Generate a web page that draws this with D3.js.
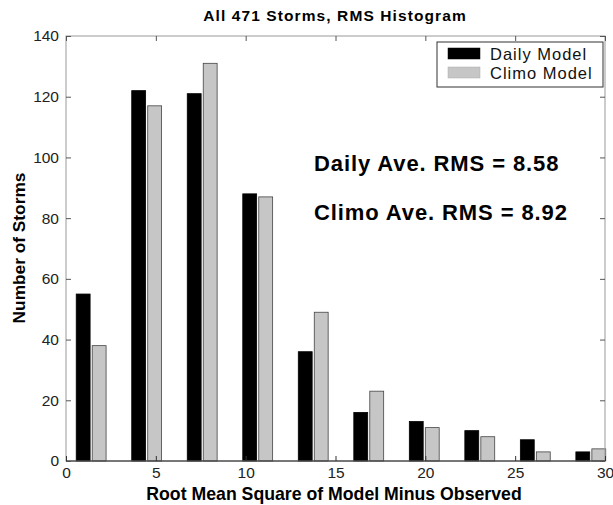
<!DOCTYPE html>
<html><head><meta charset="utf-8">
<script src="https://cdn.jsdelivr.net/npm/d3@7"></script>
<style>body{margin:0;background:#fff}svg{display:block}text{font-family:"Liberation Sans",Arial,sans-serif}</style>
</head><body><svg id="c" width="613" height="505"></svg>
<script>
const binCenters = [1.4, 4.49, 7.58, 10.67, 13.76, 16.85, 19.94, 23.03, 26.12, 29.21];
const dailyCounts = [55, 122, 121, 88, 36, 16, 13, 10, 7, 3];
const climoCounts = [38, 117, 131, 87, 49, 23, 11, 8, 3, 4];
const seriesNames = ["Daily Model", "Climo Model"];
const xTicks = [0, 5, 10, 15, 20, 25, 30];
const yTicks = [0, 20, 40, 60, 80, 100, 120, 140];
const titleText = "All 471 Storms, RMS Histogram";
const xLabel = "Root Mean Square of Model Minus Observed";
const yLabel = "Number of Storms";
const notes = ["Daily Ave. RMS = 8.58", "Climo Ave. RMS = 8.92"];

const svg = d3.select("#c");
const L = 66, R = 605, T = 36, B = 461;
const x = d3.scaleLinear().domain([0, 30]).range([L, R]);
const y = d3.scaleLinear().domain([0, 140]).range([B, T]);
const binW = binCenters[1] - binCenters[0];
const off = binW * 0.144, bw = binW * 0.25;

const colors = ["#000", "#c6c6c6"];
const series = [dailyCounts, climoCounts];
series.forEach((vals, si) => {
  svg.append("g").selectAll("rect").data(vals).join("rect")
    .attr("x", (d, i) => x(binCenters[i] + (si === 0 ? -off : off) - bw / 2))
    .attr("width", x(bw) - x(0))
    .attr("y", d => y(d))
    .attr("height", d => y(0) - y(d))
    .attr("fill", colors[si])
    .attr("stroke", si === 0 ? "#000" : "#444")
    .attr("stroke-width", 0.8);
});

// box
svg.append("rect").attr("x", L).attr("y", T).attr("width", R - L).attr("height", B - T)
  .attr("fill", "none").attr("stroke", "#999").attr("stroke-width", 1);
svg.append("line").attr("x1", L).attr("x2", R).attr("y1", B).attr("y2", B).attr("stroke", "#222");

const tk = 5;
const xAxB = d3.axisBottom(x).tickValues(xTicks).tickSizeInner(-tk).tickSizeOuter(0).tickPadding(6);
const gx = svg.append("g").attr("transform", `translate(0,${B})`).call(xAxB);
gx.select(".domain").remove();
gx.selectAll("line").attr("stroke", "#333");
gx.selectAll("text").attr("font-size", 15.5).attr("fill", "#222");
const xAxT = d3.axisTop(x).tickValues(xTicks).tickSizeInner(-tk).tickSizeOuter(0).tickFormat("");
const gxt = svg.append("g").attr("transform", `translate(0,${T})`).call(xAxT);
gxt.select(".domain").remove(); gxt.selectAll("line").attr("stroke", "#555");

const yAxL = d3.axisLeft(y).tickValues(yTicks).tickSizeInner(-tk).tickSizeOuter(0).tickPadding(7);
const gy = svg.append("g").attr("transform", `translate(${L},0)`).call(yAxL);
gy.select(".domain").remove();
gy.selectAll("line").attr("stroke", "#555");
gy.selectAll("text").attr("font-size", 15.5).attr("fill", "#222");
const yAxR = d3.axisRight(y).tickValues(yTicks).tickSizeInner(-tk).tickSizeOuter(0).tickFormat("");
const gyr = svg.append("g").attr("transform", `translate(${R},0)`).call(yAxR);
gyr.select(".domain").remove(); gyr.selectAll("line").attr("stroke", "#555");

svg.append("text").attr("x", 335).attr("y", 20.5).attr("text-anchor", "middle")
  .attr("font-size", 15.5).attr("letter-spacing", 1.1).attr("font-weight", "bold").text(titleText);
svg.append("text").attr("x", 334).attr("y", 500).attr("text-anchor", "middle")
  .attr("font-size", 17.7).attr("font-weight", "bold").text(xLabel);
svg.append("text").attr("transform", "translate(25,248) rotate(-90)").attr("text-anchor", "middle")
  .attr("font-size", 17.3).attr("font-weight", "bold").text(yLabel);

notes.forEach((t, i) => {
  svg.append("text").attr("x", 314).attr("y", 171 + i * 49).attr("font-size", 22)
    .attr("letter-spacing", 0.9).attr("font-weight", "bold").text(t);
});

// legend
const lg = svg.append("g");
lg.append("rect").attr("x", 437).attr("y", 42).attr("width", 166).attr("height", 45)
  .attr("fill", "#fff").attr("stroke", "#333").attr("stroke-width", 1);
seriesNames.forEach((n, i) => {
  lg.append("rect").attr("x", 448).attr("y", 48 + i * 19).attr("width", 32).attr("height", 11)
    .attr("fill", colors[i]).attr("stroke", i === 0 ? "#000" : "#aaa").attr("stroke-width", 0.5);
  lg.append("text").attr("x", 490).attr("y", 60 + i * 18.5).attr("font-size", 16.5)
    .attr("letter-spacing", 1).attr("fill", "#111").text(n);
});
</script></body></html>
